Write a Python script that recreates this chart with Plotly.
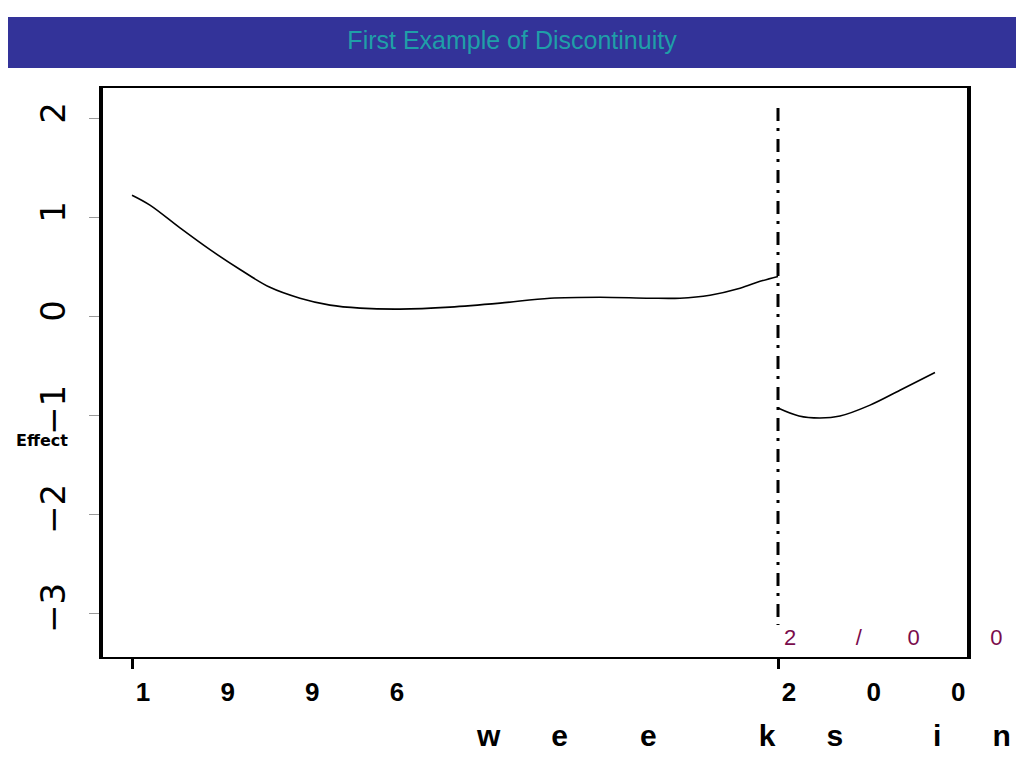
import plotly.graph_objects as go

# ---- data ----
seg1_years = [1996.000, 1996.111, 1996.297, 1996.483, 1996.669, 1996.854, 1997.040,
              1997.226, 1997.412, 1997.659, 1997.969, 1998.279, 1998.588, 1998.898,
              1999.207, 1999.393, 1999.579, 1999.765, 1999.889, 2000.000]
seg1_vals = [1.22, 1.12, 0.89, 0.67, 0.47, 0.29, 0.18,
             0.11, 0.08, 0.07, 0.09, 0.13, 0.18, 0.19,
             0.18, 0.18, 0.21, 0.28, 0.35, 0.40]

seg2_years = [2000.000, 2000.130, 2000.260, 2000.384, 2000.570, 2000.755, 2000.972]
seg2_vals = [-0.93, -1.01, -1.03, -1.01, -0.90, -0.75, -0.57]

break_year = 2000.0
break_span = [2.1, -3.12]

EM, EN, TH, HA = "\u2003", "\u2002", "\u2009", "\u200a"
GAP = EM + EM + EN + TH
x_tick_vals = [1996, 2000]
x_tick_text = [GAP.join("1996"), GAP.join("2000")]
y_tick_vals = [-3, -2, -1, 0, 1, 2]
y_tick_text = ["\u22123", "\u22122", "\u22121", "0", "1", "2"]

title_text = "First Example of Discontinuity"
x_title_text = ("w" + EM + EN + TH + "e" + EM + EM + TH + TH + "e" + EM + EM + EM + TH + TH
                + "k" + EM + EN + TH + "s" + EM + EM + EM + "i" + EM + EN + TH + "n")
y_title_text = "Effect"
break_label = ("2" + EM + EM + EN + TH + "/" + EM + EM + HA + "0" + EM + EM + EM + TH + "0")

# page is offset by the 8px body margin
OFF = 8
W, H = 1016, 760
ML, MT = 95, 80
PW, PH = 864, 569
MR = W - ML - PW
MB = H - MT - PH


def px_x(page_x):
    return (page_x - OFF - ML) / PW


def px_y(page_y):
    return (H - MB - (page_y - OFF)) / PH


fig = go.Figure()
fig.add_trace(go.Scatter(x=seg1_years, y=seg1_vals, mode="lines",
                         line=dict(color="black", width=1.6, shape="spline"),
                         showlegend=False, hoverinfo="skip"))
fig.add_trace(go.Scatter(x=seg2_years, y=seg2_vals, mode="lines",
                         line=dict(color="black", width=1.6, shape="spline"),
                         showlegend=False, hoverinfo="skip"))
fig.add_trace(go.Scatter(x=[break_year, break_year], y=break_span, mode="lines",
                         line=dict(color="black", width=3, dash="13px,7px,3px,8px"),
                         showlegend=False, hoverinfo="skip"))

# title bar
fig.add_shape(type="rect", xref="paper", yref="paper",
              x0=px_x(0), x1=px_x(1030), y0=px_y(68), y1=px_y(17),
              fillcolor="#333399", line=dict(width=0), layer="below")

fig.add_annotation(text=break_label, xref="paper", yref="paper",
                   x=px_x(782), y=px_y(637), xanchor="left", yanchor="middle",
                   showarrow=False, font=dict(family="Liberation Sans", size=22, color="#7a0c4c"))
fig.add_annotation(text=x_title_text, xref="paper", yref="paper",
                   x=px_x(474), y=px_y(735), xanchor="left", yanchor="middle",
                   showarrow=False, font=dict(family="Liberation Sans", size=30, color="black", weight="bold"))
fig.add_annotation(text=y_title_text, xref="paper", yref="paper",
                   x=px_x(42), y=px_y(440), xanchor="center", yanchor="middle",
                   showarrow=False, font=dict(family="DejaVu Sans", size=16, color="black", weight="bold"))

fig.update_layout(
    width=W, height=H,
    margin=dict(l=ML, r=MR, t=MT, b=MB, pad=0),
    paper_bgcolor="white", plot_bgcolor="white",
    showlegend=False,
    title=dict(text=title_text, x=(512 - OFF) / W, xanchor="center", xref="container",
               y=1 - (40 - OFF) / H, yanchor="middle", yref="container",
               font=dict(family="Liberation Sans", size=25, color="#1f9fa8")),
)
fig.update_xaxes(
    range=[1995.8204, 2001.1703], tickvals=x_tick_vals, ticktext=x_tick_text,
    showgrid=False, zeroline=False, showline=True, linecolor="black", linewidth=1.5,
    mirror=True, ticks="outside", ticklen=10, tickwidth=3, tickcolor="black",
    tickangle=0, ticklabelshift=138, ticklabelstandoff=1, ticklabeloverflow="allow",
    tickfont=dict(family="Liberation Sans", size=26, color="black", weight="bold"),
    automargin=False,
)
fig.update_yaxes(
    range=[-3.444, 2.303], tickvals=y_tick_vals, ticktext=y_tick_text,
    showgrid=False, zeroline=False, showline=True, linecolor="black", linewidth=4,
    mirror=True, ticks="outside", ticklen=10, tickwidth=1, tickcolor="#999999",
    tickangle=-90, ticklabelstandoff=10,
    tickfont=dict(family="DejaVu Sans", size=34, color="black"),
    automargin=False,
)

fig.write_html("out.html")
